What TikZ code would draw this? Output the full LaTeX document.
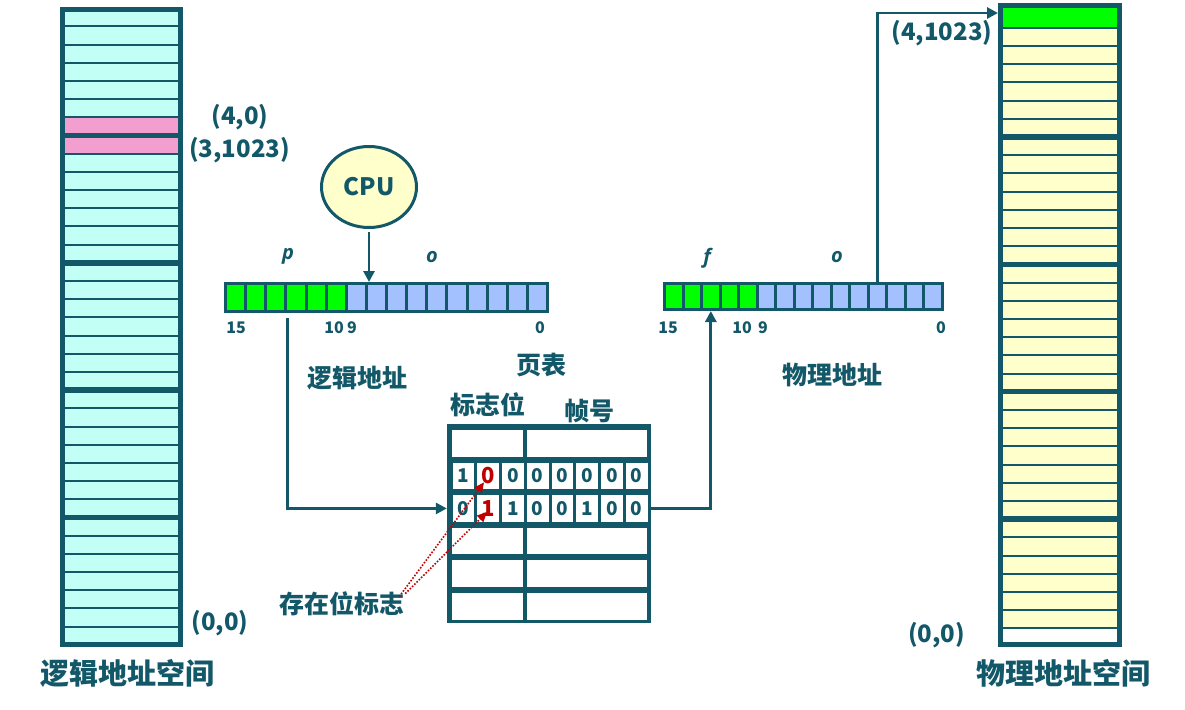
\documentclass[tikz,border=0pt]{standalone}
\usepackage{fontspec}
\setmainfont{Noto Sans CJK SC}
\newfontfamily\latit{Open Sans}
\usetikzlibrary{arrows.meta,shapes.geometric}
\definecolor{tl}{HTML}{125868}
\definecolor{cyanf}{HTML}{C2FFF5}
\definecolor{yelf}{HTML}{FFFFCC}
\definecolor{grn}{HTML}{00FF00}
\definecolor{blu}{HTML}{A3C1FF}
\definecolor{pnk}{HTML}{F29FD0}
\definecolor{rd}{HTML}{C00000}
\begin{document}
\begin{tikzpicture}[x=1pt,y=-1pt,
  txt/.style={text=tl, inner sep=0pt, font=\bfseries\fontsize{#1}{#1}\selectfont},
  ital/.style={text=tl, inner sep=0pt, font=\latit\bfseries\itshape\fontsize{20}{20}\selectfont},
  col/.style={draw=tl, line width=5pt, inner sep=0pt},
  thinl/.style={draw=tl, line width=2pt},
  thickl/.style={draw=tl, line width=5.5pt},
  cell/.style={draw=tl, line width=3pt, inner sep=0pt},
  bcell/.style={fill=white, minimum width=21.8pt, minimum height=26.5pt, inner sep=0pt, text=tl, font=\bfseries\fontsize{19}{19}\selectfont},
  rcell/.style={bcell, text=rd, font=\bfseries\fontsize{22}{22}\selectfont},
  conn/.style={draw=tl, line width=2.8pt, -{Triangle[length=11pt,width=11pt]}},
  redarr/.style={draw=rd, line width=1.6pt, dash pattern=on 1.6pt off 1.6pt, -{Triangle[length=10pt,width=9pt]}}
]
\useasboundingbox (0,0) rectangle (1185,709);

% ---------- logical address space ----------
\node[col, fill=cyanf, minimum width=118pt, minimum height=635pt] (lspace) at (121.5,327) {};
\fill[pnk] (65,{8.2+18.19*6}) rectangle (178,{8.2+18.19*8});
\foreach \k in {1,...,34} \draw[thinl] (62.5,{8.2+18.19*\k}) -- (180.5,{8.2+18.19*\k});
\foreach \k in {7,14,21,28} \draw[thickl] (62.5,{8.2+18.19*\k}) -- (180.5,{8.2+18.19*\k});
\node[col, minimum width=118pt, minimum height=635pt] at (121.5,327) {};

\node[txt=24] (l40) at (240,117) {(4,0)};
\node[txt=24] (l31023) at (239.5,150) {(3,1023)};
\node[txt=24] (l00) at (220,623.5) {(0,0)};
\node[txt=29] (lname) at (127,673) {逻辑地址空间};

% ---------- physical address space ----------
\node[col, fill=yelf, minimum width=119pt, minimum height=639pt] (pspace) at (1060,325) {};
\fill[grn] (1003,8) rectangle (1117,{9.5+18.2});
\fill[white] (1003,{9.5+18.2*34}) rectangle (1117,642);
\foreach \k in {1,...,34} \draw[thinl] (1000.5,{9.5+18.2*\k}) -- (1119.5,{9.5+18.2*\k});
\foreach \k in {7,14,21,28} \draw[thickl] (1000.5,{9.5+18.2*\k}) -- (1119.5,{9.5+18.2*\k});
\node[col, minimum width=119pt, minimum height=639pt] at (1060,325) {};

\node[txt=24] (p41023) at (942,33) {(4,1023)};
\node[txt=24] (p00) at (936.5,635) {(0,0)};
\node[txt=29] (pname) at (1063.5,673) {物理地址空间};

% ---------- CPU ----------
\node[ellipse, draw=tl, line width=3pt, fill=yelf, minimum width=95pt, minimum height=81pt, txt=24] (cpu) at (369,187) {CPU};

% ---------- logical address register ----------
\foreach \i in {0,...,15} {
  \pgfmathsetmacro\cx{225.5+20.125*(\i+0.5)}
  \ifnum\i<6 \def\cf{grn}\else\def\cf{blu}\fi
  \node[cell, fill=\cf, minimum width=20.125pt, minimum height=28pt] (lr\i) at (\cx,297.5) {};
}
\node[ital] (pl) at (288,256) {p};
\node[ital] (ol) at (432,257) {o};
\node[txt=16] (la15) at (236,328) {15};
\node[txt=16] (la10) at (334,328) {10};
\node[txt=16] (la9) at (352,328) {9};
\node[txt=16] (la0) at (540,328) {0};
\node[txt=25] (lad) at (357,378) {逻辑地址};

% ---------- physical address register ----------
\foreach \i in {0,...,14} {
  \pgfmathsetmacro\cx{664.5+18.533*(\i+0.5)}
  \ifnum\i<5 \def\cf{grn}\else\def\cf{blu}\fi
  \node[cell, fill=\cf, minimum width=18.533pt, minimum height=26pt] (pr\i) at (\cx,296.5) {};
}
\node[ital] (fp) at (707,258) {f};
\node[ital] (op) at (837,257) {o};
\node[txt=16] (pa15) at (668,328) {15};
\node[txt=16] (pa10) at (742,328) {10};
\node[txt=16] (pa9) at (763,328) {9};
\node[txt=16] (pa0) at (941,328) {0};
\node[txt=25] (pad) at (832,375) {物理地址};

% ---------- page table ----------
\node[txt=25] (ptl) at (541,365) {页表};
\node[txt=25] (flagh) at (487.5,405) {标志位};
\node[txt=25] (frameh) at (589,411) {帧号};
\node[fill=tl, minimum width=204pt, minimum height=199pt, inner sep=0pt] (ptab) at (549,523.5) {};
\foreach \r in {0,3,4,5} {
  \fill[white] (452,{430+32.6*\r}) rectangle (523,{456.5+32.6*\r});
  \fill[white] (527,{430+32.6*\r}) rectangle (647,{456.5+32.6*\r});
}
\foreach \j/\d in {0/1,2/0,3/0,4/0,5/0,6/0,7/0}
  \node[bcell] (a\j) at ({463.4+24.75*\j},475.85) {\d};
\node[rcell] (a1) at ({463.4+24.75},475.85) {0};
\foreach \j/\d in {0/0,2/1,3/0,4/0,5/1,6/0,7/0}
  \node[bcell] (b\j) at ({463.4+24.75*\j},508.45) {\d};
\node[rcell] (b1) at ({463.4+24.75},508.45) {1};

\node[txt=25] (sflag) at (341.5,604) {存在位标志};

% ---------- connectors ----------
\draw[conn] ([yshift=-3pt]cpu.south) -- (cpu.south |- lr6.north);
\draw[conn] ([yshift=-5pt]lr2.south east) |- (ptab.west |- b0.center);
\draw[conn] (ptab.east |- b7.center) -| (pr2.south);
\draw[conn] (pr11.north) |- ([yshift=-10pt]pspace.north west);
\draw[redarr] ([xshift=-5pt,yshift=-5pt]sflag.north east) -- ([xshift=7pt,yshift=7pt]a1.south west);
\draw[redarr] ([xshift=1pt,yshift=-2pt]sflag.north east) -- ([xshift=10pt,yshift=10pt]b1.south west);
\end{tikzpicture}
\end{document}
